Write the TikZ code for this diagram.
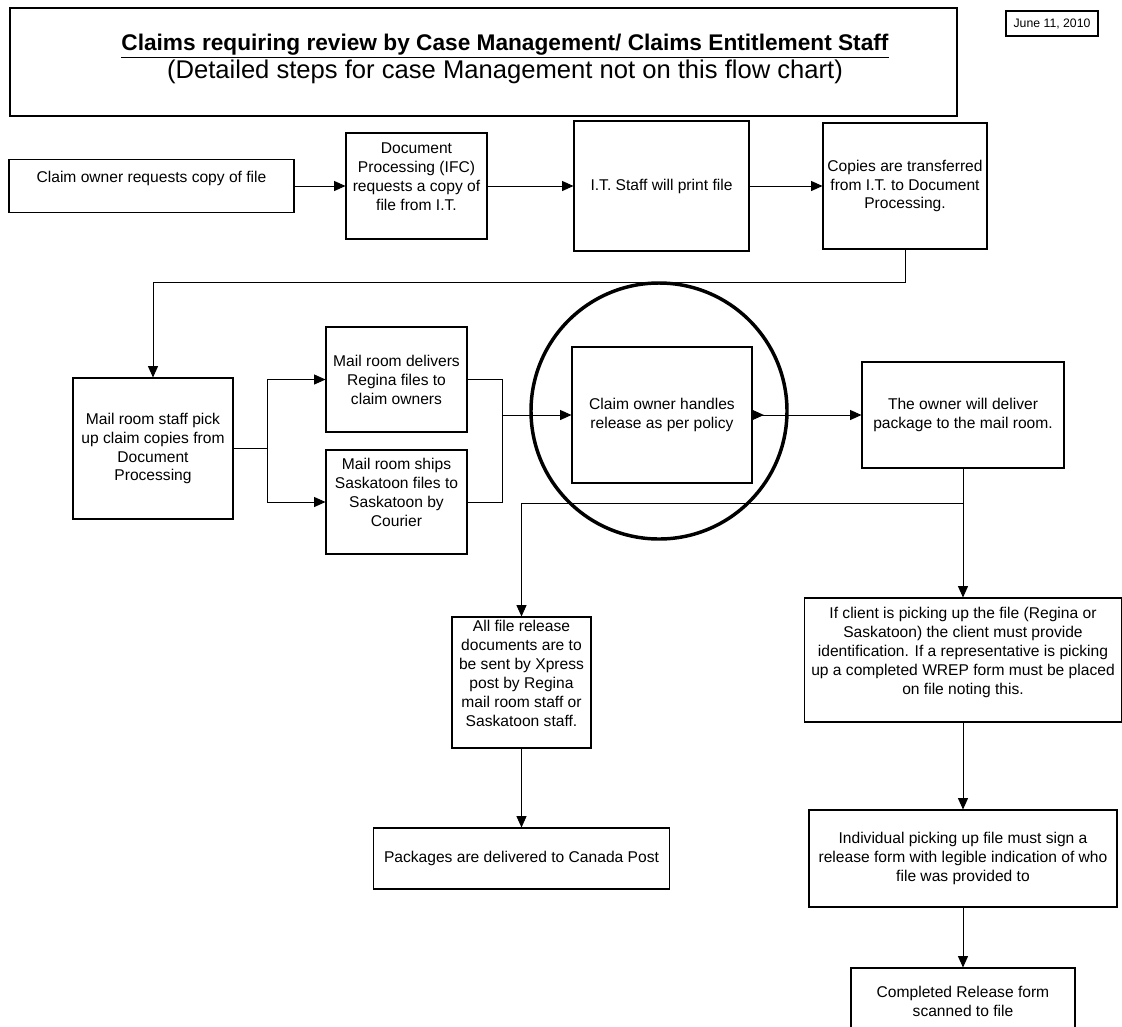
\documentclass[tikz,border=0pt]{standalone}
\usepackage{fontspec}
\setmainfont{Liberation Sans}
\usetikzlibrary{arrows.meta}
\begin{document}
\begin{tikzpicture}[x=0.75pt, y=-0.75pt, >={Triangle[length=8.5pt, width=7.5pt]},
    box/.style={draw, line width=0.8pt, align=center, inner sep=1pt, font=\fontsize{11.7}{14.2}\selectfont},
    flow/.style={line width=0.7pt, ->}]
            \useasboundingbox (0,0) rectangle (1122,1026);
            \clip (0,0) rectangle (1122,1026);
            \node[box, minimum width=947*0.75pt, minimum height=108*0.75pt] (header) at (483.5,62) {};
            \node[align=center, font=\fontsize{19.2}{21}\selectfont] (headline) at (505,59) {\fontsize{17}{21}\selectfont\underline{\textbf{Claims requiring review by Case Management/ Claims Entitlement Staff}}\\(Detailed steps for case Management not on this flow chart)};
            \node[box, font=\fontsize{9.2}{10}\selectfont, minimum width=92*0.75pt, minimum height=25*0.75pt] (date) at (1052,23.5) {June 11, 2010};
            \node[box, minimum width=285*0.75pt, minimum height=53*0.75pt] (request) at (151.5,186) {Claim owner requests copy of file\\\mbox{}};
            \node[box, minimum width=141*0.75pt, minimum height=106*0.75pt] (procreq) at (416.5,186) {Document\\Processing (IFC)\\requests a copy of\\file from I.T.\\\mbox{}};
            \node[box, minimum width=175*0.75pt, minimum height=130*0.75pt] (print) at (661.5,186) {I.T. Staff will print file};
            \node[box, minimum width=164*0.75pt, minimum height=126*0.75pt] (transfer) at (905,186) {Copies are transferred\\from I.T. to Document\\Processing.};
            \node[box, minimum width=160*0.75pt, minimum height=141*0.75pt] (pickup) at (153,448.5) {Mail room staff pick\\up claim copies from\\Document\\Processing};
            \node[box, minimum width=141*0.75pt, minimum height=105*0.75pt] (regina) at (396.5,379.5) {Mail room delivers\\Regina files to\\claim owners};
            \node[box, minimum width=141*0.75pt, minimum height=104*0.75pt] (saskatoon) at (396.5,502) {Mail room ships\\Saskatoon files to\\Saskatoon by\\Courier\\\mbox{}};
            \node[box, minimum width=180*0.75pt, minimum height=136*0.75pt] (handles) at (662,415) {Claim owner handles\\release as per policy};
            \node[box, minimum width=202*0.75pt, minimum height=106*0.75pt] (deliver) at (963,415) {The owner will deliver\\package to the mail room.};
            \node[box, minimum width=139*0.75pt, minimum height=131*0.75pt] (xpress) at (521.5,682.5) {All file release\\documents are to\\be sent by Xpress\\post by Regina\\mail room staff or\\Saskatoon staff.\\\mbox{}};
            \node[box, minimum width=317*0.75pt, minimum height=124*0.75pt] (client) at (963,660) {If client is picking up the file (Regina or\\Saskatoon) the client must provide\\identification. If a representative is picking\\up a completed WREP form must be placed\\on file noting this.\\\mbox{}};
            \node[box, minimum width=296*0.75pt, minimum height=61*0.75pt] (canada) at (521.5,858.5) {Packages are delivered to Canada Post};
            \node[box, minimum width=308*0.75pt, minimum height=97*0.75pt] (sign) at (963,858.5) {Individual picking up file must sign a\\release form with legible indication of who\\file was provided to};
            \node[box, minimum width=224*0.75pt, minimum height=66*0.75pt] (scanned) at (963,1001) {Completed Release form\\scanned to file};
            \node[draw, circle, line width=2.6pt, minimum size=256*0.75pt] (focus) at (659,411) {};
            \draw[flow] (request) -- (procreq);
            \draw[flow] (procreq) -- (print);
            \draw[flow] (print) -- (transfer);
            \draw[flow] (transfer.south) -- ++(0,33) -| (pickup.north);
            \draw[flow] (pickup.east) -- ++(34,0) coordinate (fork) |- (regina.west);
            \draw[flow] (fork) |- (saskatoon.west);
            \draw[line width=0.7pt] (regina.east) -- ++(35,0) coordinate (join) |- (saskatoon.east);
            \draw[flow] (join |- handles.west) -- (handles.west);
            \draw[line width=0.7pt, {Triangle[length=8.5pt, width=7.5pt, reversed]}->] (handles) -- (deliver);
            \draw[flow] (deliver) -- (client);
            \path (deliver.south) ++(0,35) coordinate (split);
            \draw[flow] (split) -| (xpress.north);
            \draw[flow] (xpress) -- (canada);
            \draw[flow] (client) -- (sign);
            \draw[flow] (sign) -- (scanned);
        \end{tikzpicture}
\end{document}
